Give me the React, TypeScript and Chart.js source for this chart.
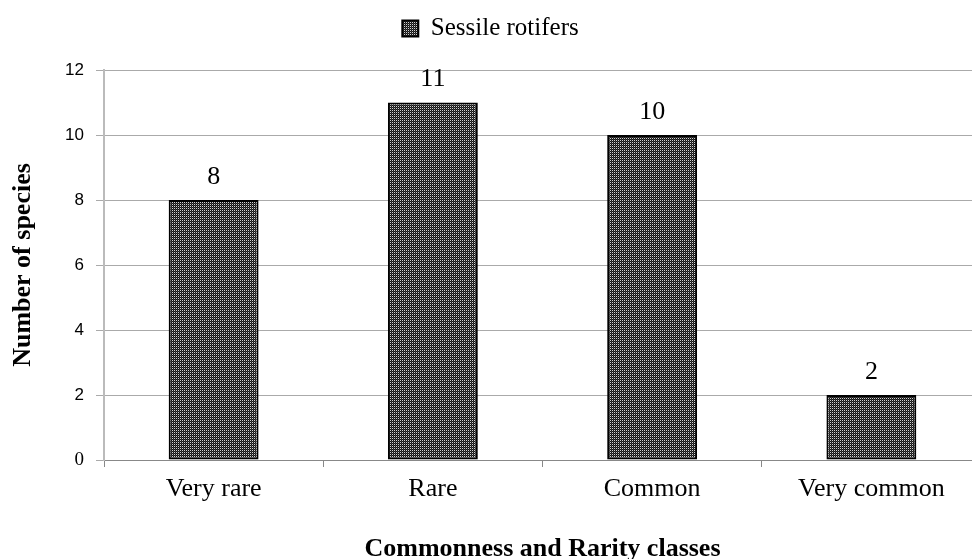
import React, { useEffect, useRef } from "react";
import { Chart, registerables } from "chart.js";

Chart.register(...registerables);

const categories = ["Very rare", "Rare", "Common", "Very common"];
const seriesName = "Sessile rotifers";
const seriesValues = [8, 11, 10, 2];
const yTicks = [0, 2, 4, 6, 8, 10, 12];

const SERIF = "'Liberation Serif', 'Times New Roman', serif";
const SANS = "'Liberation Sans', Arial, sans-serif";

function makePattern(): CanvasPattern | string {
  const c = document.createElement("canvas");
  c.width = 2;
  c.height = 2;
  const g = c.getContext("2d");
  if (!g) return "#444";
  const img = g.createImageData(2, 2);
  const cols = [210, 20, 20, 60];
  for (let i = 0; i < 4; i++) {
    img.data[i * 4] = cols[i];
    img.data[i * 4 + 1] = cols[i];
    img.data[i * 4 + 2] = cols[i];
    img.data[i * 4 + 3] = 255;
  }
  g.putImageData(img, 0, 0);
  const ctx = document.createElement("canvas").getContext("2d");
  const p = ctx ? ctx.createPattern(c, "repeat") : null;
  return p || "#444";
}

const valueLabels = {
  id: "valueLabels",
  afterDatasetsDraw(chart: any) {
    const ctx = chart.ctx;
    const meta = chart.getDatasetMeta(0);
    ctx.save();
    ctx.font = `26px ${SERIF}`;
    ctx.fillStyle = "#000";
    ctx.textAlign = "center";
    ctx.textBaseline = "middle";
    meta.data.forEach((el: any, i: number) => {
      ctx.fillText(String(seriesValues[i]), el.x, el.y - 23);
    });
    ctx.restore();
  },
};

const legendSpacer = {
  id: "legendSpacer",
  beforeLayout(chart: any) {
    const lg = chart.legend;
    if (lg && !lg.__patched) {
      const orig = lg.fit;
      lg.fit = function () {
        orig.call(this);
        this.height += 19;
      };
      lg.__patched = true;
    }
  },
};

export default function App() {
  const ref = useRef<HTMLCanvasElement>(null);
  useEffect(() => {
    if (!ref.current) return;
    const pattern = makePattern();
    const chart = new Chart(ref.current, {
      type: "bar",
      data: {
        labels: categories,
        datasets: [
          {
            label: seriesName,
            data: seriesValues,
            backgroundColor: pattern as any,
            borderColor: "#000",
            borderWidth: 2,
            borderSkipped: false,
            barPercentage: 0.41,
            categoryPercentage: 1,
          },
        ],
      },
      options: {
        responsive: false,
        animation: false,
        layout: { padding: { top: 6, right: 9, left: 0, bottom: 0 } },
        plugins: {
          legend: {
            position: "top",
            labels: {
              font: { family: SERIF, size: 25 },
              color: "#000",
              boxWidth: 16,
              boxHeight: 16,
              padding: 10,
              useBorderRadius: false,
            },
            onClick: () => {},
          },
          tooltip: { enabled: false },
        },
        scales: {
          x: {
            grid: {
              display: true,
              offset: true,
              drawOnChartArea: false,
              drawTicks: true,
              tickLength: 7,
              color: "#888",
            },
            border: { display: true, color: "#888", width: 1 },
            ticks: {
              font: { family: SERIF, size: 26 },
              color: "#000",
              padding: 7,
            },
            title: {
              display: true,
              text: "Commonness and Rarity classes",
              font: { family: SERIF, size: 26, weight: "bold" },
              color: "#000",
              padding: { top: 20, bottom: -6 },
            },
            afterFit: (s: any) => {
              s.height = 99;
            },
          },
          y: {
            min: 0,
            max: 12,
            afterBuildTicks: (s: any) => {
              s.ticks = yTicks.map((v) => ({ value: v }));
            },
            grid: {
              color: "#aaa",
              tickLength: 8,
              lineWidth: 1,
            },
            border: { display: true, color: "#bbb", width: 2 },
            ticks: {
              font: (c: any) =>
                c.tick && c.tick.value === 0
                  ? { family: SERIF, size: 19 }
                  : { family: SANS, size: 17 },
              color: "#000",
              padding: 12,
            },
            title: {
              display: true,
              text: "Number of species",
              font: { family: SERIF, size: 26, weight: "bold" },
              color: "#000",
              padding: { top: 8, bottom: 10 },
            },
            afterFit: (s: any) => {
              s.width = 104;
            },
          },
        },
      },
      plugins: [valueLabels, legendSpacer],
    });
    return () => chart.destroy();
  }, []);
  return (
    <div
      style={{
        position: "absolute",
        left: 0,
        top: 0,
        width: 972,
        height: 559,
        overflow: "hidden",
        background: "#fff",
      }}
    >
      <canvas ref={ref} width={990} height={559} style={{ display: "block" }} />
    </div>
  );
}
